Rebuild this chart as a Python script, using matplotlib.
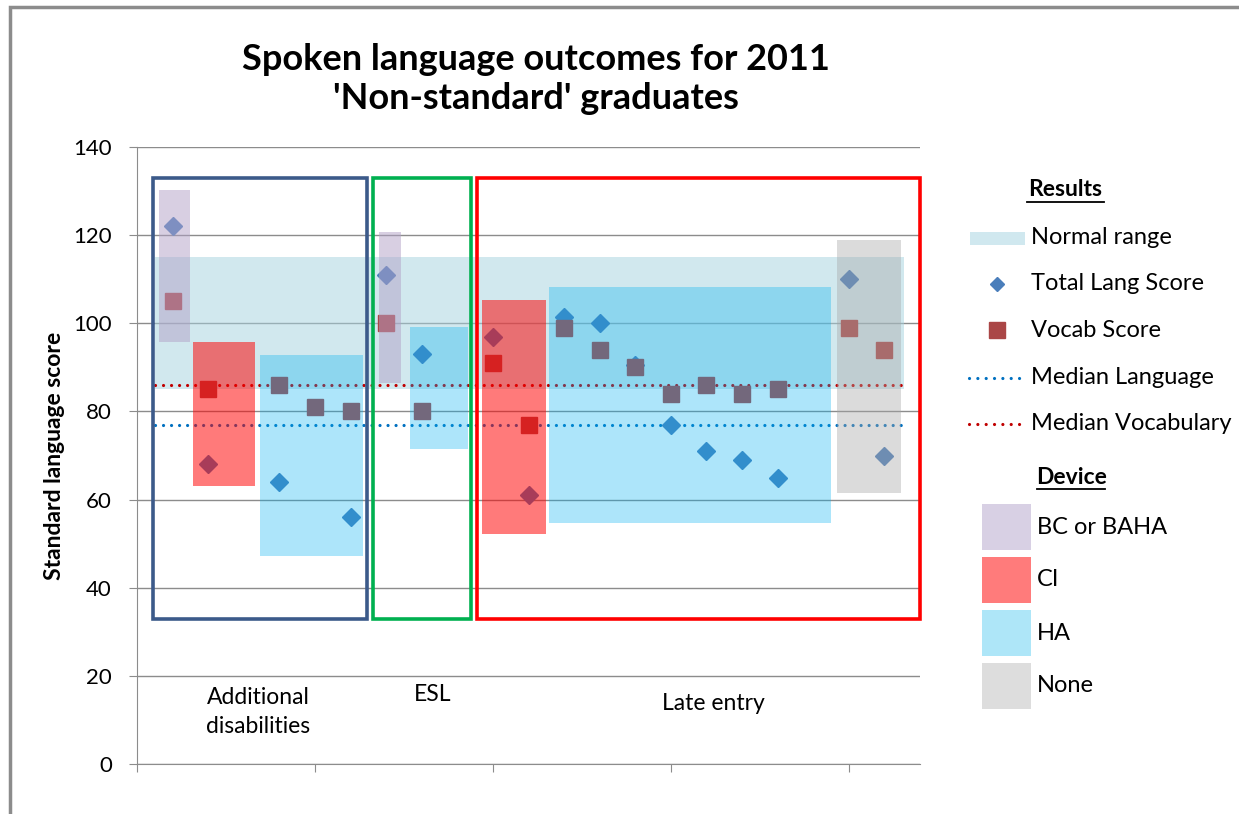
import numpy as np
import matplotlib
matplotlib.use('Agg')
import matplotlib.pyplot as plt
from matplotlib.patches import Rectangle
from matplotlib.lines import Line2D

plt.rcParams['font.family'] = ['Lato', 'DejaVu Sans']

# student positions and scores
stu_x = [1, 2, 4, 5, 6, 7, 8, 10, 11, 12, 13, 14, 15, 16, 17, 18, 20, 21]
lang = [122, 68, 64, np.nan, 56, 111, 93, 97, 61, 101.5, 100, 90.5, 77, 71, 69, 65, 110, 70]
vocab = [105, 85, 86, 81, 80, 100, 80, 91, 77, 99, 94, 90, 84, 86, 84, 85, 99, 94]

# device ranges (left, right, low, high, device)
dev_left = [0.62, 1.56, 3.45, 6.80, 7.67, 9.69, 11.57, 19.66]
dev_right = [1.49, 3.32, 6.36, 7.43, 9.29, 11.48, 19.51, 21.48]
dev_low = [95.8, 63.1, 47.2, 86.4, 71.5, 52.2, 54.6, 61.4]
dev_high = [130.2, 95.8, 92.8, 120.6, 99.2, 105.3, 108.2, 118.9]
dev_type = ['BC or BAHA', 'CI', 'HA', 'BC or BAHA', 'HA', 'CI', 'HA', 'None']

devices = ['BC or BAHA', 'CI', 'HA', 'None']
dev_colors = {'BC or BAHA': ('#b2a1c7', 0.5), 'CI': ('#ff0000', 0.52),
              'HA': ('#00b0f0', 0.32), 'None': ('#a6a6a6', 0.4)}
dev_legend = {'BC or BAHA': '#d8d0e4', 'CI': '#ff7b7b', 'HA': '#aee6f8', 'None': '#dddddd'}

normal_lo, normal_hi = 85, 115
median_lang, median_vocab = 77, 86
span = [0.5, 21.55]

groups = ['Additional\ndisabilities', 'ESL', 'Late entry']
group_left = [0.45, 6.63, 9.55]
group_right = [6.46, 9.38, 22.0]
group_colors = ['#3c5a8a', '#00b050', '#ff0000']
group_label_x = [3.4, 8.3, 16.2]
group_label_y = [11.8, 15.7, 13.8]
box_lo, box_hi = 33, 133

W, H = 1239, 814
fx = lambda px: px / W
fy = lambda py: 1 - py / H

fig = plt.figure(figsize=(W / 100, H / 100), dpi=100)
ax = fig.add_axes([fx(137), fy(764), fx(920) - fx(137), (764 - 147) / H])

grid_c = '#8c8c8c'
ax.set_xlim(0, 22)
ax.set_ylim(0, 140)
ax.set_yticks(range(0, 141, 20))
ax.set_xticks(range(0, 21, 5))
ax.set_xticklabels([])
ax.grid(axis='y', color=grid_c, lw=1, zorder=0)
ax.set_axisbelow(True)
for s in ['top', 'right']:
    ax.spines[s].set_visible(False)
for s in ['left', 'bottom']:
    ax.spines[s].set_color(grid_c)
ax.tick_params(axis='both', color=grid_c, length=6, labelsize=16, pad=12)

# normal range band
ax.fill_between(span, normal_lo, normal_hi, color='#a5d2df', alpha=0.5, lw=0, zorder=1)

# medians
ax.plot(span, [median_lang] * 2, color='#0070c0', lw=2.3, dashes=[0.01, 2.5],
        dash_capstyle='round', zorder=2)
ax.plot(span, [median_vocab] * 2, color='#c00000', lw=2.3, dashes=[0.01, 2.5],
        dash_capstyle='round', zorder=2)

# scores
ax.plot(stu_x, lang, ls='none', marker='D', ms=9, color='#4a7ebb', mec='#4a7ebb', zorder=3)
ax.plot(stu_x, vocab, ls='none', marker='s', ms=12, color='#aa4646', mec='#aa4646', zorder=3)

# device bars on top
for l, r, lo, hi, d in zip(dev_left, dev_right, dev_low, dev_high, dev_type):
    c, a = dev_colors[d]
    ax.bar(l, hi - lo, width=r - l, bottom=lo, align='edge', color=c, alpha=a, lw=0, zorder=4)

# group boxes
for l, r, c in zip(group_left, group_right, group_colors):
    ax.add_patch(Rectangle((l, box_lo), r - l, box_hi - box_lo, fill=False, ec=c,
                           lw=2.6, zorder=5, clip_on=False))

for g, gx, gy in zip(groups, group_label_x, group_label_y):
    ax.text(gx, gy, g, ha='center', va='center', fontsize=16.5, linespacing=1.45)

ax.set_ylabel('Standard language score', fontsize=16.5, fontweight='bold')
ax.yaxis.set_label_coords((65 - 137) / 783, 0.5)

fig.text(fx(536), fy(79), "Spoken language outcomes for 2011\n'Non-standard' graduates",
         ha='center', va='center', fontsize=26, fontweight='bold', linespacing=1.25)

# outer frame
fig.add_artist(Rectangle((fx(10), -0.1), 1.2, fy(7) + 0.1, transform=fig.transFigure,
                         fill=False, ec='#8c8c8c', lw=2.5))

def heading(text, cx, cy, x0, x1):
    fig.text(fx(cx), fy(cy), text, ha='center', va='center', fontsize=16.5, fontweight='bold')
    fig.add_artist(Line2D([fx(x0), fx(x1)], [fy(cy + 12)] * 2, color='black', lw=1.3))

# legend: Results
heading('Results', 1065, 190, 1027, 1104)
res_y = [238, 284, 330, 378, 424]
res_labels = ['Normal range', 'Total Lang Score', 'Vocab Score', 'Median Language', 'Median Vocabulary']
fig.add_artist(Rectangle((fx(970), fy(245)), fx(1025) - fx(970), 13 / H,
                         transform=fig.transFigure, color='#d0e8ef', lw=0))
fig.add_artist(Line2D([fx(997)], [fy(284)], marker='D', ms=7.5, color='#4a7ebb', ls='none'))
fig.add_artist(Line2D([fx(997)], [fy(330)], marker='s', ms=11.5, color='#aa4646', ls='none'))
fig.add_artist(Line2D([fx(969), fx(1023)], [fy(378)] * 2, color='#0070c0', lw=2.3,
                      dashes=[0.01, 2.6], dash_capstyle='round'))
fig.add_artist(Line2D([fx(969), fx(1023)], [fy(424)] * 2, color='#c00000', lw=2.3,
                      dashes=[0.01, 2.6], dash_capstyle='round'))
for y, t in zip(res_y, res_labels):
    fig.text(fx(1031), fy(y), t, ha='left', va='center', fontsize=17)

# legend: Device
heading('Device', 1072, 477, 1037, 1105)
dev_y = [527, 580, 633, 686]
for y, d in zip(dev_y, devices):
    fig.add_artist(Rectangle((fx(982), fy(y + 23)), fx(1031) - fx(982), 46 / H,
                             transform=fig.transFigure, color=dev_legend[d], lw=0))
    fig.text(fx(1037), fy(y), d, ha='left', va='center', fontsize=17)

fig.savefig('out.png', dpi=100)
